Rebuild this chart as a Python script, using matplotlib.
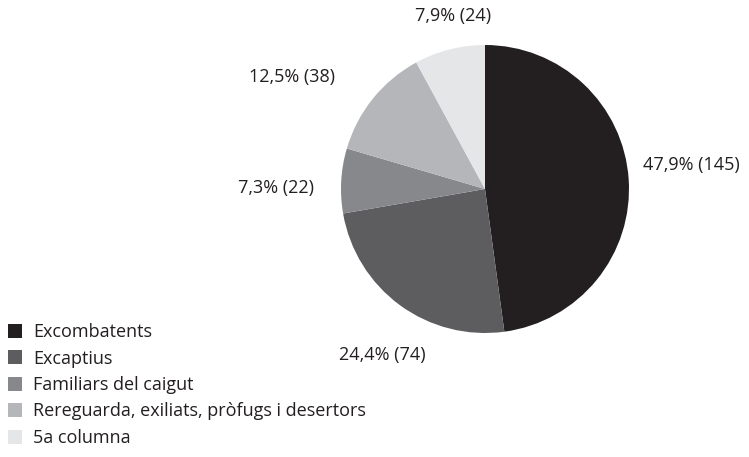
#%%############################################################################
# Pie chart of categories with percentage and count labels.
###############################################################################
import matplotlib
matplotlib.use('Agg')
import matplotlib.pyplot as plt

#%%############################################################################
# Data.
###############################################################################
categories = ['Excombatents', 'Excaptius', 'Familiars del caigut',
              'Rereguarda, exiliats, pròfugs i desertors', '5a columna']
counts = [145, 74, 22, 38, 24]
percentLabels = ['47,9%', '24,4%', '7,3%', '12,5%', '7,9%']
colors = ['#231f20', '#5d5d60', '#87888c', '#b5b6ba', '#e5e6e8']

# label positions in units of pie radius, and alignment
labelPos = [(1.10, 0.17), (-0.71, -1.15), (-1.19, 0.01), (-1.04, 0.78), (-0.22, 1.20)]
labelHa = ['left', 'center', 'right', 'right', 'center']

plt.rcParams['font.family'] = ['Open Sans', 'DejaVu Sans']
textColor = '#231f20'

#%%############################################################################
# Plot.
###############################################################################
fig = plt.figure(figsize=(7.49, 4.57), dpi=100)
cx, cy, r = 485 / 749, 1 - 189 / 457, 144
ax = fig.add_axes([cx - r / 749, cy - r / 457, 2 * r / 749, 2 * r / 457])

wedges, _ = ax.pie(counts, colors=colors, startangle=90, counterclock=False,
                   radius=1, wedgeprops=dict(linewidth=0))
ax.set_xlim(-1, 1)
ax.set_ylim(-1, 1)
ax.set_aspect('equal')
ax.axis('off')

for i in range(len(counts)):
    ax.text(labelPos[i][0], labelPos[i][1], percentLabels[i] + ' (' + str(counts[i]) + ')',
            ha=labelHa[i], va='center', fontsize=13, color=textColor, clip_on=False)

fig.legend(wedges, categories, loc='upper left', bbox_to_anchor=(-1 / 749, 1 - 314 / 457),
           frameon=False, fontsize=13, handlelength=0.8, handleheight=0.8,
           handletextpad=0.6, labelspacing=0.47, borderpad=0, labelcolor=textColor)

fig.savefig('out.png', dpi=100)
